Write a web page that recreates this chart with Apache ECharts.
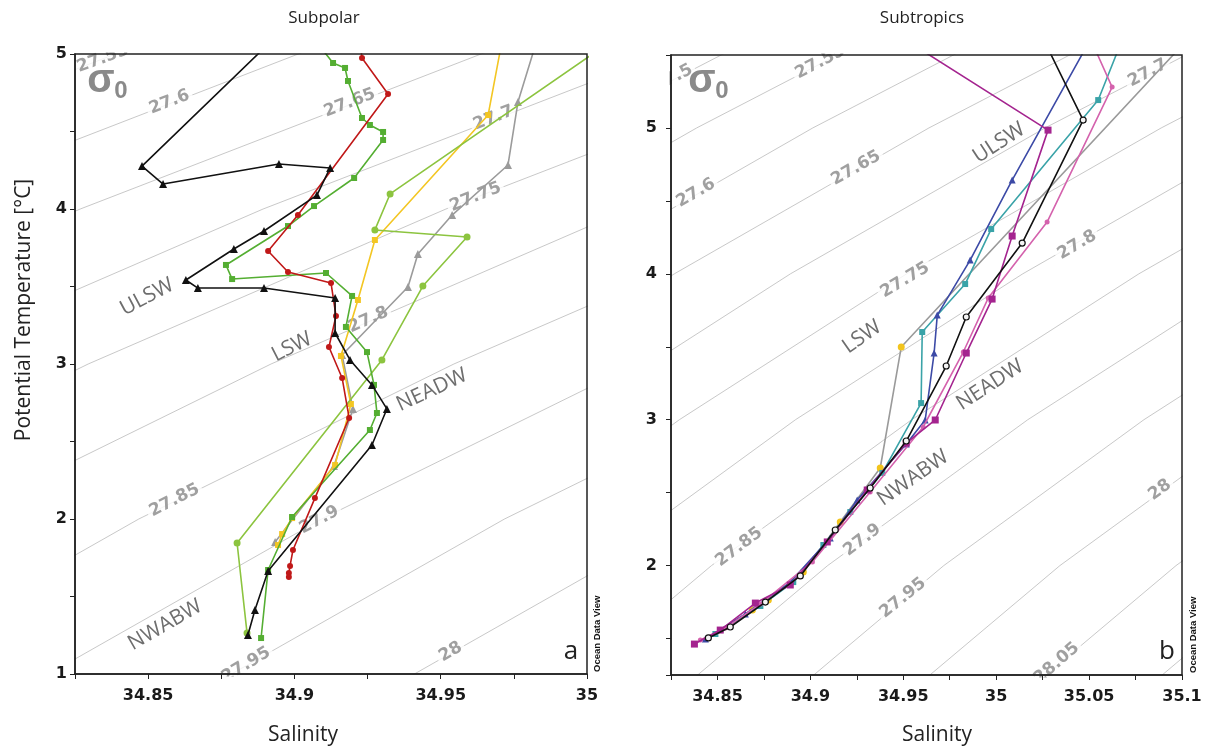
<!DOCTYPE html>
<html>
<head>
<meta charset="utf-8">
<script src="https://cdn.jsdelivr.net/npm/echarts@6/dist/echarts.min.js"></script>
<style>
html,body{margin:0;padding:0;background:#fff}
#chart{width:1208px;height:749px}
</style>
</head>
<body>
<div id="chart"></div>
<script>
// ---- sigma-0 isopycnals: salinity along each level at fixed temperatures ----
const isoTemps = [0.5, 1, 2, 3, 4, 5, 6];
const isoLevels = ['27.5', '27.55', '27.6', '27.65', '27.7', '27.75', '27.8', '27.85', '27.9', '27.95', '28', '28.05', '28.1'];
const isoSal = [
  [34.2750, 34.3160, 34.4090, 34.5170, 34.6390, 34.7760, 34.9280],
  [34.3375, 34.3785, 34.4718, 34.5795, 34.7018, 34.8388, 34.9903],
  [34.4000, 34.4410, 34.5343, 34.6420, 34.7643, 34.9013, 35.0528],
  [34.4625, 34.5035, 34.5968, 34.7045, 34.8268, 34.9638, 35.1153],
  [34.5250, 34.5660, 34.6593, 34.7670, 34.8893, 35.0263, 35.1778],
  [34.5875, 34.6285, 34.7218, 34.8295, 34.9518, 35.0888, 35.2403],
  [34.6500, 34.6910, 34.7843, 34.8920, 35.0143, 35.1513, 35.3028],
  [34.7125, 34.7535, 34.8468, 34.9545, 35.0768, 35.2138, 35.3653],
  [34.7750, 34.8160, 34.9093, 35.0170, 35.1393, 35.2763, 35.4278],
  [34.8375, 34.8785, 34.9718, 35.0795, 35.2018, 35.3388, 35.4903],
  [34.9000, 34.9410, 35.0343, 35.1420, 35.2643, 35.4013, 35.5528],
  [34.9625, 35.0035, 35.0968, 35.2045, 35.3268, 35.4638, 35.6153],
  [35.0250, 35.0660, 35.1593, 35.2670, 35.3893, 35.5263, 35.6778]
];

// isopycnal labels (level, salinity/temperature anchor on the line)
const spIsoLabel = ['27.55', '27.6', '27.65', '27.7', '27.75', '27.8', '27.85', '27.9', '27.95', '28'];
const spIsoAnchor = [[34.8345, 4.97], [34.8573, 4.69], [34.9189, 4.684], [34.968, 4.587], [34.9619, 4.077],
  [34.9253, 3.284], [34.859, 2.12], [34.9085, 1.9935], [34.8835, 1.058], [34.9534, 1.142]];
const stIsoLabel = ['27.5', '27.55', '27.6', '27.65', '27.7', '27.75', '27.8', '27.85', '27.9', '27.95', '28', '28.05'];
const stIsoAnchor = [[34.8261, 5.34], [34.9053, 5.45], [34.8384, 4.554], [34.9246, 4.725], [35.0815, 5.376],
  [34.951, 3.957], [35.0436, 4.197], [34.8616, 2.127], [34.928, 2.175], [34.9498, 1.778], [35.0881, 2.518], [35.0326, 1.33]];

// ---- Subpolar profiles: [salinity, potential temperature] ----
const spBlack = [[34.904, 5.3], [34.8479, 4.277], [34.8551, 4.161], [34.8947, 4.290], [34.9122, 4.265], [34.9077, 4.090],
  [34.8896, 3.858], [34.8793, 3.742], [34.8629, 3.542], [34.8670, 3.490], [34.8896, 3.490], [34.9139, 3.426],
  [34.9139, 3.200], [34.9190, 3.026], [34.9265, 2.865], [34.9316, 2.710], [34.9265, 2.477], [34.8910, 1.665],
  [34.8865, 1.413], [34.8841, 1.252]];
const spRed = [[34.921, 5.3], [34.9231, 4.974], [34.9320, 4.742], [34.9012, 3.961], [34.8910, 3.729], [34.8978, 3.594],
  [34.9125, 3.523], [34.9142, 3.310], [34.9118, 3.110], [34.9163, 2.910], [34.9187, 2.652], [34.9070, 2.135],
  [34.8995, 1.800], [34.8985, 1.697], [34.8981, 1.652], [34.8981, 1.626]];
const spGreen = [[34.9016, 5.219], [34.9132, 4.942], [34.9173, 4.910], [34.9183, 4.826], [34.9231, 4.587], [34.9258, 4.542],
  [34.9303, 4.497], [34.9303, 4.445], [34.9204, 4.200], [34.9067, 4.019], [34.8978, 3.890], [34.8766, 3.639],
  [34.8787, 3.548], [34.9108, 3.587], [34.9197, 3.439], [34.9176, 3.239], [34.9248, 3.077], [34.9272, 2.865],
  [34.9282, 2.684], [34.9258, 2.574], [34.8992, 2.013], [34.8910, 1.671], [34.8886, 1.232]];
const spLime = [[35.0215, 5.255], [34.9327, 4.097], [34.9275, 3.865], [34.9590, 3.819], [34.9439, 3.503], [34.9299, 3.026],
  [34.8804, 1.845], [34.8838, 1.265]];
const spYellow = [[34.9723, 5.219], [34.9662, 4.606], [34.9275, 3.800], [34.9217, 3.413], [34.9159, 3.052], [34.9193, 2.742],
  [34.9139, 2.348], [34.8992, 2.006], [34.8958, 1.903], [34.8944, 1.832]];
const spGray = [[34.9850, 5.219], [34.9764, 4.690], [34.9730, 4.284], [34.9539, 3.961], [34.9422, 3.710], [34.9388, 3.497],
  [34.9163, 3.058], [34.9200, 2.710], [34.9135, 2.342], [34.8934, 1.852]];

// ---- Subtropics profiles ----
const stPurple = [[34.9344, 5.739], [35.0279, 4.985], [35.0086, 4.259], [34.9978, 3.827], [34.9839, 3.457], [34.9672, 2.998],
  [34.9516, 2.840], [34.9306, 2.518], [34.9091, 2.162], [34.8892, 1.867], [34.8704, 1.743], [34.8515, 1.558], [34.8376, 1.462]];
const stPink = [[35.0462, 5.739], [35.0624, 5.280], [35.0274, 4.355], [34.9957, 3.834], [34.9823, 3.464], [34.9607, 2.950],
  [34.9322, 2.504], [34.9011, 2.025], [34.8731, 1.737], [34.8543, 1.572], [34.8408, 1.490]];
const stBlue = [[35.0565, 5.739], [35.0086, 4.643], [34.9860, 4.094], [34.9683, 3.717], [34.9666, 3.457], [34.9618, 2.998],
  [34.9516, 2.833], [34.9252, 2.449], [34.9107, 2.189], [34.8887, 1.881], [34.8650, 1.668], [34.8435, 1.497]];
const stTeal = [[35.0720, 5.739], [35.0549, 5.191], [34.9973, 4.307], [34.9833, 3.930], [34.9602, 3.601], [34.9596, 3.114],
  [34.9387, 2.635], [34.9215, 2.367], [34.9070, 2.141], [34.8908, 1.887], [34.8731, 1.723], [34.8489, 1.531]];
const stBlack = [[35.0204, 5.739], [35.0468, 5.054], [35.0140, 4.211], [34.9839, 3.704], [34.9731, 3.368], [34.9516, 2.854],
  [34.9322, 2.532], [34.9134, 2.244], [34.8946, 1.929], [34.8758, 1.750], [34.8569, 1.579], [34.8451, 1.504]];
const stGray = [[35.1097, 5.698], [34.9489, 3.498], [34.9376, 2.669], [34.9161, 2.299], [34.8962, 1.956], [34.8774, 1.764],
  [34.8688, 1.696]];

// ---------------------------------------------------------------------------
const chart = echarts.init(document.getElementById('chart'), null, { renderer: 'canvas' });

const TICK_FONT = 'DejaVu Sans';
const TEXT_FONT = 'Open Sans';

function fmtSal(v) {
  const r = Math.round(v * 1000);
  return r % 50 === 0 ? String(r / 1000) : '';
}
function fmtTemp(v) {
  const r = Math.round(v * 1000);
  return r % 1000 === 0 ? String(r / 1000) : '';
}

function xAxisCfg(gi, min, max) {
  return {
    type: 'value', gridIndex: gi, min: min, max: max, interval: 0.025, position: 'bottom', z: 5,
    axisLine: { show: true, onZero: false, lineStyle: { color: '#222', width: 1.5 } },
    axisTick: { show: true, inside: false, length: 5, lineStyle: { color: '#222', width: 1 } },
    axisLabel: { margin: 14, fontFamily: TICK_FONT, fontWeight: 'bold', fontSize: 16, color: '#1a1a1a', formatter: fmtSal },
    splitLine: { show: false }
  };
}
function yAxisCfg(gi, extra, margin) {
  return Object.assign({
    type: 'value', gridIndex: gi, position: 'left', z: 5,
    axisLine: { show: true, onZero: false, lineStyle: { color: '#222', width: 1.5 } },
    axisTick: { show: true, inside: false, length: 5, lineStyle: { color: '#222', width: 1 } },
    axisLabel: { margin: margin, fontFamily: TICK_FONT, fontWeight: 'bold', fontSize: 16, color: '#1a1a1a', formatter: fmtTemp },
    splitLine: { show: false }
  }, extra);
}

const series = [];

// isopycnal lines for both panels
[0, 1].forEach(function (gi) {
  isoLevels.forEach(function (lvl, i) {
    series.push({
      type: 'line', name: 'sigma ' + lvl, xAxisIndex: gi, yAxisIndex: gi,
      data: isoTemps.map(function (t, j) { return [isoSal[i][j], t]; }),
      symbol: 'none', silent: true, clip: true, z: 1,
      lineStyle: { color: '#bababa', width: 0.8 }
    });
  });
});

// isopycnal labels
function isoLabelSeries(gi, labels, anchors, angles) {
  return {
    type: 'scatter', xAxisIndex: gi, yAxisIndex: gi, silent: true, clip: false, z: 1.5,
    symbol: 'circle', symbolSize: 1, itemStyle: { color: 'rgba(255,255,255,0)' },
    data: labels.map(function (lbl, i) {
      return { value: anchors[i], label: { formatter: lbl, rotate: angles[i] } };
    }),
    label: {
      show: true, position: 'inside', color: '#888888', fontFamily: TICK_FONT, fontWeight: 'bold', fontSize: 17,
      backgroundColor: '#ffffff', padding: [0, 3]
    },
    labelLayout: { hideOverlap: false }
  };
}
series.push(isoLabelSeries(0, spIsoLabel, spIsoAnchor, [20, 21, 21, 21, 22, 24, 27, 28, 31, 31]));
series.push(isoLabelSeries(1, stIsoLabel, stIsoAnchor, [28, 28, 30, 29.5, 28, 31, 30.5, 37, 37, 39, 36, 41]));

// profile lines
function profile(name, gi, data, lineColor, markColor, symbol, size, z, border) {
  return {
    type: 'line', name: name, xAxisIndex: gi, yAxisIndex: gi, data: data, clip: true, z: z,
    symbol: symbol, symbolSize: size, showSymbol: true, showAllSymbol: true,
    lineStyle: { color: lineColor, width: 1.6, type: 'solid' },
    itemStyle: { color: markColor, borderColor: border || markColor, borderWidth: border ? 1.2 : 0 }
  };
}
series.push(profile('Gray', 0, spGray, '#9b9b9b', '#9b9b9b', 'triangle', 8, 3));
series.push(profile('Yellow', 0, spYellow, '#f3c623', '#f3c623', 'rect', 6, 3.1));
series.push(profile('Light green', 0, spLime, '#8cc43f', '#8cc43f', 'circle', 7, 3.2));
series.push(profile('Green', 0, spGreen, '#54ae32', '#54ae32', 'rect', 6, 3.3));
series.push(profile('Red', 0, spRed, '#c01818', '#c01818', 'circle', 6, 3.4));
series.push(profile('Black', 0, spBlack, '#111111', '#111111', 'triangle', 8, 3.5));

series.push(profile('Gray', 1, stGray, '#9a9a9a', '#f2c41d', 'circle', 7, 3));
series.push(profile('Teal', 1, stTeal, '#3aa3a8', '#3aa3a8', 'rect', 6, 3.1));
series.push(profile('Blue', 1, stBlue, '#3c4aa6', '#3c4aa6', 'triangle', 7, 3.2));
series.push(profile('Pink', 1, stPink, '#d462ad', '#d462ad', 'circle', 5, 3.3));
series.push(profile('Purple', 1, stPurple, '#a4248f', '#a4248f', 'rect', 7, 3.4));
series.push(profile('Black', 1, stBlack, '#111111', '#f4f4f4', 'circle', 6, 3.5, '#111111'));

// annotation texts
function txt(text, x, y, opts) {
  const o = opts || {};
  return {
    type: 'text', x: x, y: y, rotation: (o.rot || 0) * Math.PI / 180, z: o.z || 2, silent: true,
    style: {
      text: text, fill: o.color || '#222', fontSize: o.size || 16, fontFamily: o.family || TEXT_FONT,
      fontWeight: o.weight || 'normal',
      textAlign: o.align || 'center', align: o.align || 'center',
      textVerticalAlign: 'middle', verticalAlign: 'middle'
    }
  };
}
function cover(x, y, w, h) {
  return { type: 'rect', z: 4, silent: true, shape: { x: x, y: y, width: w, height: h }, style: { fill: '#ffffff' } };
}
const WM = '#6e6e6e';
const graphics = [
  cover(75, 28, 512, 24.5), cover(75, 676.5, 512, 13),
  cover(671, 28, 511, 25.5), cover(640, 56.5, 29.5, 50), cover(671, 677.5, 511, 13),
  txt('Salinity', 303, 735, { size: 21 }),
  txt('Salinity', 937, 735, { size: 21 }),
  txt('Potential Temperature [°C]', 24, 310, { size: 21, rot: 90 }),
  txt('σ', 101, 81, { size: 40, weight: 'bold', color: '#8a8a8a', family: 'Liberation Sans' }),
  txt('0', 121, 91, { size: 24, weight: 'bold', color: '#8a8a8a', family: 'Liberation Sans' }),
  txt('σ', 702, 81, { size: 40, weight: 'bold', color: '#8a8a8a', family: 'Liberation Sans' }),
  txt('0', 722, 91, { size: 24, weight: 'bold', color: '#8a8a8a', family: 'Liberation Sans' }),
  txt('ULSW', 147, 297, { size: 21, color: WM, rot: 28 }),
  txt('LSW', 292, 347, { size: 21, color: WM, rot: 27 }),
  txt('NEADW', 432, 390, { size: 21, color: WM, rot: 25 }),
  txt('NWABW', 165, 625, { size: 21, color: WM, rot: 30 }),
  txt('ULSW', 999, 143, { size: 21, color: WM, rot: 33 }),
  txt('LSW', 862, 337, { size: 21, color: WM, rot: 35 }),
  txt('NEADW', 990, 385, { size: 21, color: WM, rot: 33 }),
  txt('NWABW', 913, 478, { size: 21, color: WM, rot: 35 }),
  txt('a', 571, 652, { size: 26 }),
  txt('b', 1167, 652, { size: 26 }),
  txt('Ocean Data View', 597, 672, { size: 9.5, weight: 'bold', family: 'Liberation Sans', rot: 90, align: 'left', color: '#111' }),
  txt('Ocean Data View', 1193, 673, { size: 9.5, weight: 'bold', family: 'Liberation Sans', rot: 90, align: 'left', color: '#111' })
];

chart.setOption({
  animation: false,
  backgroundColor: '#ffffff',
  title: [
    { text: 'Subpolar', left: 319, top: 5, textAlign: 'center', z: 6,
      textStyle: { fontFamily: TEXT_FONT, fontSize: 17, fontWeight: 'normal', color: '#222' } },
    { text: 'Subtropics', left: 917, top: 5, textAlign: 'center', z: 6,
      textStyle: { fontFamily: TEXT_FONT, fontSize: 17, fontWeight: 'normal', color: '#222' } }
  ],
  grid: [
    { left: 75, top: 54, width: 512, height: 620, show: true, borderColor: '#222', borderWidth: 1.5, backgroundColor: 'transparent', z: 5 },
    { left: 671, top: 55, width: 511, height: 620, show: true, borderColor: '#222', borderWidth: 1.5, backgroundColor: 'transparent', z: 5 }
  ],
  xAxis: [xAxisCfg(0, 34.825, 35.0), xAxisCfg(1, 34.825, 35.1)],
  yAxis: [
    yAxisCfg(0, { min: 1, max: 5, interval: 0.5 }, 8),
    yAxisCfg(1, { min: 1.25, max: 5.5, minInterval: 0.5, maxInterval: 0.5, splitNumber: 4 }, 14)
  ],
  series: series,
  graphic: { elements: graphics }
});
</script>
</body>
</html>
